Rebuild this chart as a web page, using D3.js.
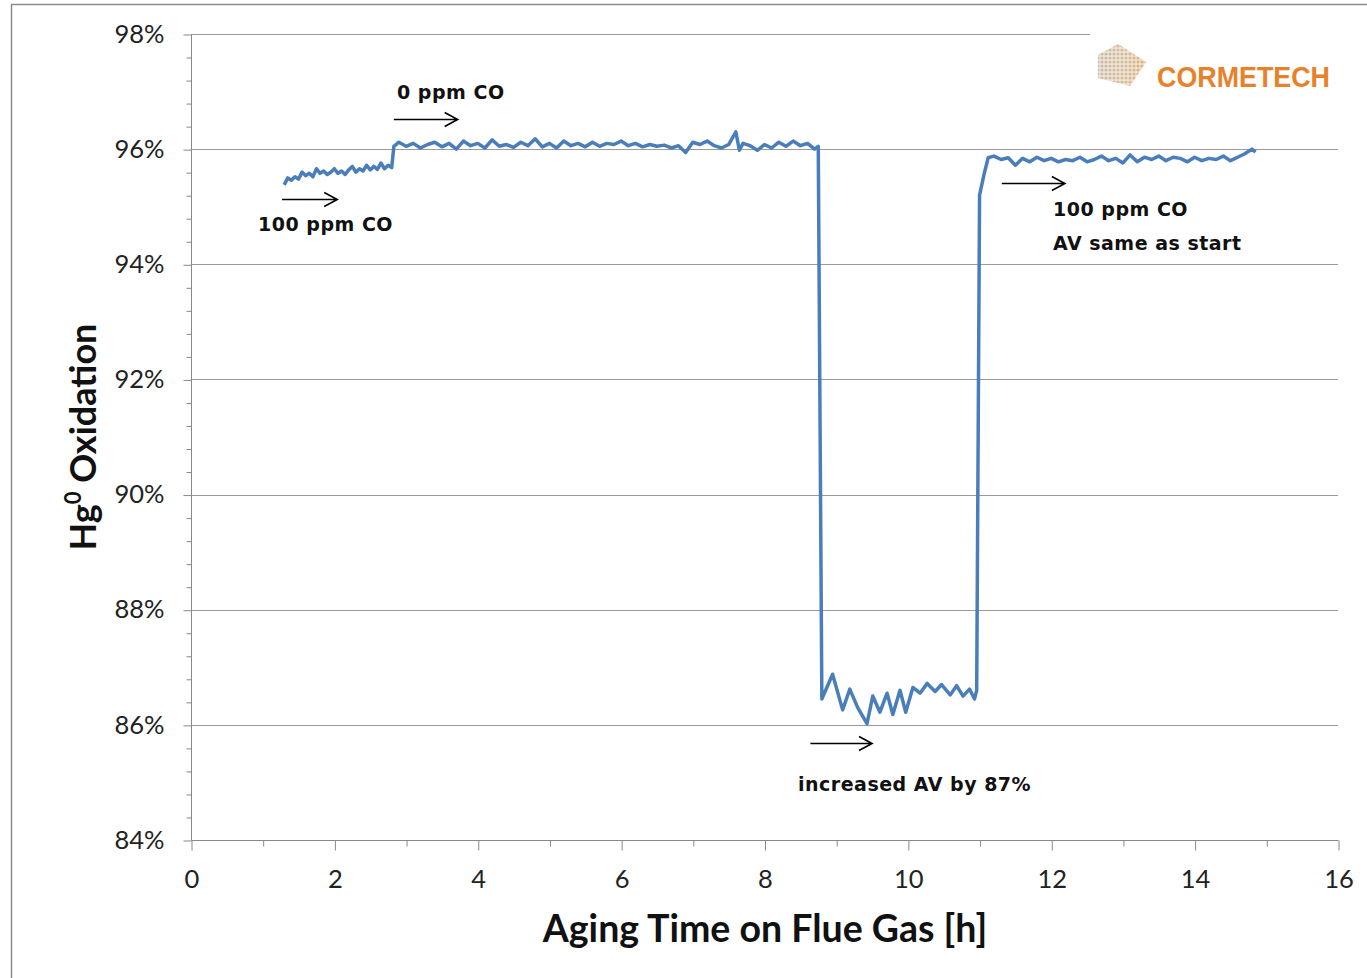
<!DOCTYPE html>
<html><head><meta charset="utf-8">
<script src="https://cdn.jsdelivr.net/npm/d3@7/dist/d3.min.js"></script>
<style>body{margin:0;background:#fff}svg{display:block}</style>
</head><body>
<svg id="c" width="1367" height="978"></svg>
<script>
const hours = [1.3,1.35,1.4,1.45,1.5,1.55,1.6,1.65,1.7,1.75,1.8,1.85,1.9,1.95,2.0,2.05,2.1,2.15,2.2,2.25,2.3,2.35,2.4,2.45,2.5,2.55,2.6,2.65,2.7,2.75,2.8,2.83,
2.9,3.0,3.1,3.2,3.3,3.4,3.5,3.6,3.7,3.8,3.9,4.0,4.1,4.2,4.3,4.4,4.5,4.6,4.7,4.8,4.9,
5.0,5.1,5.2,5.3,5.4,5.5,5.6,5.7,5.8,5.9,6.0,6.1,6.2,6.3,6.4,6.5,6.6,6.7,6.8,6.9,
7.0,7.1,7.2,7.3,7.4,7.5,7.6,7.65,7.7,7.8,7.9,8.0,8.1,8.2,8.3,8.4,8.5,8.6,8.7,8.75,
8.8,8.95,9.09,9.19,9.3,9.43,9.51,9.61,9.71,9.79,9.89,9.97,10.07,10.17,10.27,10.38,10.47,10.59,10.68,10.77,10.86,10.93,10.96,
11.0,11.06,11.12,11.2,11.3,11.4,11.5,11.6,11.7,11.8,11.9,12.0,12.1,12.2,12.3,12.4,12.5,12.6,12.7,12.8,12.9,
13.0,13.1,13.2,13.3,13.4,13.5,13.6,13.7,13.8,13.9,14.0,14.1,14.2,14.3,14.4,14.5,14.6,14.7,14.8,14.85];
const oxidation = [95.38,95.50,95.46,95.52,95.48,95.60,95.54,95.58,95.52,95.66,95.58,95.62,95.56,95.60,95.66,95.58,95.62,95.56,95.64,95.70,95.60,95.66,95.62,95.72,95.64,95.70,95.65,95.76,95.66,95.72,95.68,96.05,
96.12,96.05,96.10,96.02,96.08,96.12,96.04,96.10,96.00,96.14,96.06,96.10,96.02,96.16,96.05,96.08,96.03,96.12,96.06,96.18,96.04,
96.10,96.02,96.14,96.06,96.10,96.04,96.12,96.05,96.10,96.08,96.14,96.06,96.10,96.04,96.08,96.05,96.07,96.02,96.06,95.94,
96.12,96.08,96.14,96.06,96.02,96.08,96.30,95.98,96.10,96.06,95.98,96.08,96.02,96.12,96.05,96.14,96.06,96.10,96.00,96.05,
86.45,86.88,86.26,86.62,86.30,86.02,86.50,86.22,86.55,86.18,86.60,86.22,86.65,86.55,86.72,86.58,86.70,86.52,86.68,86.50,86.62,86.45,86.60,
95.20,95.55,95.85,95.88,95.82,95.85,95.72,95.84,95.78,95.86,95.80,95.84,95.78,95.82,95.80,95.86,95.78,95.82,95.88,95.80,95.84,
95.76,95.90,95.78,95.86,95.82,95.88,95.80,95.86,95.84,95.78,95.86,95.80,95.84,95.82,95.88,95.80,95.86,95.92,96.00,95.95];
const xTicks = [0,2,4,6,8,10,12,14,16];
const xMinorTicks = [1,3,5,7,9,11,13,15];
const yTicks = [84,86,88,90,92,94,96,98];
const yMinorTicks = [84.4,84.8,85.2,85.6,86.4,86.8,87.2,87.6,88.4,88.8,89.2,89.6,90.4,90.8,91.2,91.6,92.4,92.8,93.2,93.6,94.4,94.8,95.2,95.6,96.4,96.8,97.2,97.6];
const annotations = [
  {label:["0 ppm CO"], tx:397, ty:99, from:[2.83,96.53], to:[3.72,96.53]},
  {label:["100 ppm CO"], tx:258, ty:231, from:[1.27,95.13], to:[2.04,95.13]},
  {label:["100 ppm CO","AV same as start"], tx:1053, ty:216, from:[11.31,95.41], to:[12.19,95.41]},
  {label:["increased AV by 87%"], tx:798, ty:791, from:[8.64,85.69], to:[9.5,85.69]}
];
const xTitle = "Aging Time on Flue Gas [h]";
const logoText = "CORMETECH";

const svg = d3.select("#c");
const x = d3.scaleLinear().domain([0,16]).range([191,1338]);
const y = d3.scaleLinear().domain([84,98]).range([840,34]);
const tickFont = "Lato, 'Open Sans', sans-serif";

// outer frame
svg.append("path").attr("d","M11.5,978 L11.5,4.5 L1367,4.5").attr("fill","none").attr("stroke","#8c8c8c").attr("stroke-width",1.5);

// gridlines
svg.append("g").selectAll("line").data(yTicks.filter(d=>d>84)).join("line")
  .attr("x1",x(0)).attr("x2",x(16)).attr("y1",d=>Math.round(y(d))+0.5).attr("y2",d=>Math.round(y(d))+0.5)
  .attr("stroke","#9a9a9a").attr("stroke-width",1);

// y axis
const yAxis = d3.axisLeft(y).tickValues(yTicks).tickFormat(d=>d+"%").tickSize(8).tickPadding(19);
const gy = svg.append("g").attr("transform",`translate(${x(0)+0.5},0.5)`).call(yAxis);
gy.select(".domain").attr("stroke","#888").attr("d",`M0,${y(98)}V${y(84)}`);
gy.selectAll(".tick line").attr("stroke","#888");
gy.selectAll("text").attr("font-family",tickFont).attr("font-size",25.5).attr("fill","#222").attr("dy","0.3em");
const gym = svg.append("g").attr("transform",`translate(${x(0)+0.5},0.5)`).call(d3.axisLeft(y).tickValues(yMinorTicks).tickSize(5).tickFormat(""));
gym.select(".domain").remove();
gym.selectAll(".tick line").attr("stroke","#888");

// x axis
const xAxis = d3.axisBottom(x).tickValues(xTicks).tickSize(10).tickPadding(19);
const gx = svg.append("g").attr("transform",`translate(0.5,${y(84)+0.5})`).call(xAxis);
gx.select(".domain").attr("stroke","#888").attr("d",`M${x(0)},0H${x(16)}`);
gx.selectAll(".tick line").attr("stroke","#888");
gx.selectAll("text").attr("font-family",tickFont).attr("font-size",25.5).attr("fill","#222");
const gxm = svg.append("g").attr("transform",`translate(0.5,${y(84)+0.5})`).call(d3.axisBottom(x).tickValues(xMinorTicks).tickSize(6).tickFormat(""));
gxm.select(".domain").remove();
gxm.selectAll(".tick line").attr("stroke","#888");

// logo cover box
svg.append("rect").attr("x",1090).attr("y",26).attr("width",250).attr("height",80).attr("fill","#fff");

// series
const pts = hours.map((h,i)=>[h,oxidation[i]]);
svg.append("path").datum(pts)
  .attr("d",d3.line().x(d=>x(d[0])).y(d=>y(d[1])))
  .attr("fill","none").attr("stroke","#4a7ebb").attr("stroke-width",3.5).attr("stroke-linejoin","round");

// annotations
const ag = svg.append("g");
annotations.forEach(a=>{
  const x1=x(a.from[0]), x2=x(a.to[0]), yy=Math.round(y(a.from[1]))+0.5;
  ag.append("path").attr("d",`M${x1},${yy}H${x2}M${x2-13},${yy-7}L${x2},${yy}L${x2-13},${yy+7}`)
    .attr("fill","none").attr("stroke","#000").attr("stroke-width",1.6);
  a.label.forEach((t,i)=>{
    ag.append("text").attr("x",a.tx).attr("y",a.ty+i*34).text(t)
      .attr("font-family","'DejaVu Sans', Verdana, sans-serif").attr("font-weight","bold").attr("font-size",19)
      .attr("letter-spacing",0.5).attr("fill","#111");
  });
});

// axis titles
const yt = svg.append("text").attr("transform","translate(96,437) rotate(-90)").attr("text-anchor","middle")
  .attr("font-family",tickFont).attr("font-weight","bold").attr("font-size",36).attr("fill","#111");
yt.append("tspan").text("Hg");
yt.append("tspan").text("0").attr("font-size",22).attr("dy",-15);
yt.append("tspan").text(" Oxidation").attr("dy",15);
svg.append("text").attr("x",765).attr("y",942).attr("text-anchor","middle").text(xTitle)
  .attr("font-family",tickFont).attr("font-weight","bold").attr("font-size",37.5).attr("fill","#111");

// logo
const defs = svg.append("defs");
const lg = defs.append("linearGradient").attr("id","lg").attr("gradientUnits","userSpaceOnUse").attr("x1",1097).attr("x2",1147).attr("y1",0).attr("y2",0);
lg.append("stop").attr("offset","0").attr("stop-color","#bdbdbd");
lg.append("stop").attr("offset","0.55").attr("stop-color","#d9c2a0");
lg.append("stop").attr("offset","1").attr("stop-color","#f29a3a");
const pat = defs.append("pattern").attr("id","dots").attr("width",4).attr("height",4).attr("patternUnits","userSpaceOnUse");
pat.append("rect").attr("width",4).attr("height",4).attr("fill","#f4efe8");
pat.append("circle").attr("cx",2).attr("cy",2).attr("r",1.6).attr("fill","#c9a37a");
svg.append("path").attr("d","M1098,55 L1118,44 L1146,62 L1130,86 L1098,78 Z").attr("fill","url(#lg)").attr("opacity",0.55);
svg.append("path").attr("d","M1098,55 L1118,44 L1146,62 L1130,86 L1098,78 Z").attr("fill","url(#dots)").attr("opacity",0.6);
svg.append("text").attr("x",1157).attr("y",87).text(logoText)
  .attr("font-family","'Liberation Sans', Arial, sans-serif").attr("font-weight","bold").attr("font-size",29)
  .attr("fill","#e8822a").attr("textLength",173).attr("lengthAdjust","spacingAndGlyphs");
</script>
</body></html>
